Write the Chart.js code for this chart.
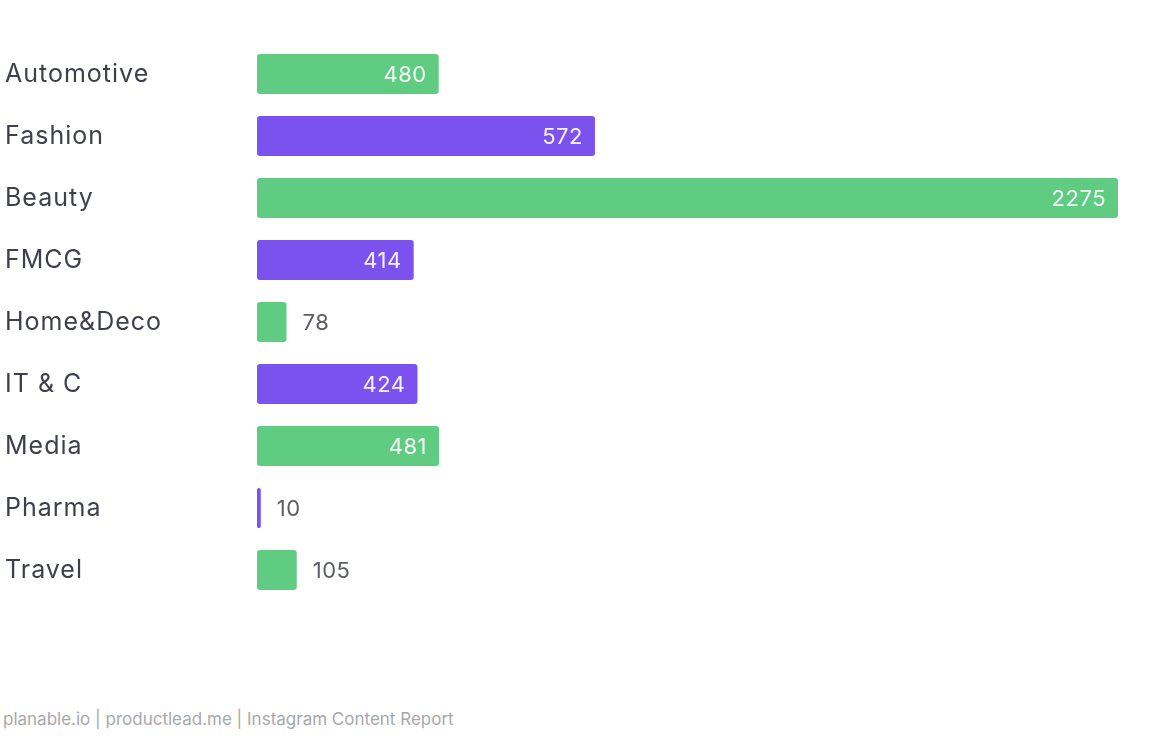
<!DOCTYPE html>
<html>
<head>
<meta charset="utf-8">
<script src="https://cdn.jsdelivr.net/npm/chart.js@4"></script>
<style>
  body { margin: 0; background: #fff; width: 1160px; height: 750px; position: relative; overflow: hidden; }
  #wrap { position: absolute; left: 0; top: 0; width: 1160px; height: 650px; }
  #source { position: absolute; left: 3px; top: 709px; font-family: Inter, sans-serif; font-size: 17px; color: #a8a8ab; }
</style>
</head>
<body>
<div id="wrap"><canvas id="industryChart"></canvas></div>
<div id="source">planable.io | productlead.me | Instagram Content Report</div>
<script>
// categories and values
const industries = ['Automotive', 'Fashion', 'Beauty', 'FMCG', 'Home&Deco', 'IT & C', 'Media', 'Pharma', 'Travel'];
// bar lengths as drawn (Fashion bar is drawn longer than its printed 572)
const barLengths = [480, 893, 2275, 414, 78, 424, 481, 10, 105];
// numbers printed on the bars
const printedValues = ['480', '572', '2275', '414', '78', '424', '481', '10', '105'];

const green = '#60cc82';
const purple = '#7b52ee';
const barColors = industries.map((_, i) => i % 2 === 0 ? green : purple);

// a bit of tracking for the category names
const spacing = {
  id: 'spacing',
  beforeDraw(chart) { chart.ctx.letterSpacing = '1px'; }
};

// writes the number inside the bar end, or just after it when the bar is short
const valueLabels = {
  id: 'valueLabels',
  afterDatasetsDraw(chart) {
    const ctx = chart.ctx;
    const meta = chart.getDatasetMeta(0);
    ctx.save();
    ctx.font = '22px Inter, sans-serif';
    ctx.letterSpacing = '0.5px';
    ctx.textBaseline = 'middle';
    meta.data.forEach((bar, i) => {
      const txt = printedValues[i];
      const w = ctx.measureText(txt).width;
      const len = bar.x - bar.base;
      if (len > w + 30) {
        ctx.fillStyle = 'rgba(255,255,255,0.92)';
        ctx.textAlign = 'right';
        ctx.fillText(txt, bar.x - 12, bar.y + 1);
      } else {
        ctx.fillStyle = '#5b5d66';
        ctx.textAlign = 'left';
        ctx.fillText(txt, bar.x + 16, bar.y + 1);
      }
    });
    ctx.restore();
  }
};

const ctx = document.getElementById('industryChart').getContext('2d');
const industryChart = new Chart(ctx, {
  type: 'bar',
  data: {
    labels: industries,
    datasets: [{
      data: barLengths,
      backgroundColor: barColors,
      borderRadius: 3,
      borderSkipped: false,
      barPercentage: 0.8,
      categoryPercentage: 0.81
    }]
  },
  options: {
    indexAxis: 'y',
    responsive: true,
    maintainAspectRatio: false,
    animation: false,
    layout: { padding: { left: 5, right: 42, top: 43, bottom: 49 } },
    plugins: { legend: { display: false }, tooltip: { enabled: false } },
    scales: {
      x: { display: false, min: 0, max: 2275 },
      y: {
        grid: { display: false },
        border: { display: false },
        ticks: {
          crossAlign: 'far',
          color: '#3d3f4c',
          font: { family: 'Inter, sans-serif', size: 25 }
        },
        afterFit(scale) { scale.width = 252; }
      }
    }
  },
  plugins: [spacing, valueLabels]
});
</script>
</body>
</html>
